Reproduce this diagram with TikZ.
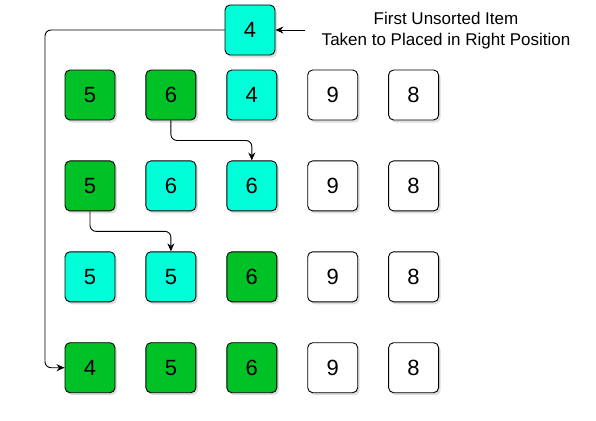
\documentclass[tikz,border=0pt]{standalone}
\usepackage{fontspec}
\setmainfont{Liberation Sans}
\usetikzlibrary{arrows.meta,positioning,shadows}
\definecolor{doneGreen}{HTML}{00C125}
\definecolor{keyCyan}{HTML}{00FFD9}
\tikzset{
  cell/.style={draw, rounded corners=5pt, line width=0.9pt, minimum size=50pt, inner sep=0pt,
    font=\fontsize{22}{26}\selectfont, fill=white,
    drop shadow={shadow xshift=2pt, shadow yshift=-2.5pt, opacity=0.22, fill=black!60}},
  done/.style={cell, fill=doneGreen},
  key/.style={cell, fill=keyCyan},
  arr/.style={-{Stealth[length=8pt,width=7pt]}, line width=0.9pt, rounded corners=6pt},
  note/.style={align=center, font=\fontsize{17}{21}\selectfont, inner sep=0pt}
}
\begin{document}
\begin{tikzpicture}[x=1pt, y=-1pt, node distance=30pt and 30pt]
\useasboundingbox (0,0) rectangle (596,420);

% key taken out
\node[key] (top) at (250,30) {4};
\node[note] (msg) at (446,31) {First Unsorted Item\\Taken to Placed in Right Position};
\coordinate (ptr) at (305,30);
\draw[arr] (ptr) -- (top.east);

% pass 1
\node[done] (r1c1) at (90,95) {5};
\node[done, right=of r1c1] (r1c2) {6};
\node[key, right=of r1c2] (r1c3) {4};
\node[cell, right=of r1c3] (r1c4) {9};
\node[cell, right=of r1c4] (r1c5) {8};

% pass 2
\node[done, below=40pt of r1c1] (r2c1) {5};
\node[key, right=of r2c1] (r2c2) {6};
\node[key, right=of r2c2] (r2c3) {6};
\node[cell, right=of r2c3] (r2c4) {9};
\node[cell, right=of r2c4] (r2c5) {8};

% pass 3
\node[key, below=40pt of r2c1] (r3c1) {5};
\node[key, right=of r3c1] (r3c2) {5};
\node[done, right=of r3c2] (r3c3) {6};
\node[cell, right=of r3c3] (r3c4) {9};
\node[cell, right=of r3c4] (r3c5) {8};

% sorted
\node[done, below=40pt of r3c1] (r4c1) {4};
\node[done, right=of r4c1] (r4c2) {5};
\node[done, right=of r4c2] (r4c3) {6};
\node[cell, right=of r4c3] (r4c4) {9};
\node[cell, right=of r4c4] (r4c5) {8};

% shifts
\draw[arr] (r1c2.south) -- ++(0,20) -| (r2c3.north);
\draw[arr] (r2c1.south) -- ++(0,20) -| (r3c2.north);
\coordinate (back) at (45,30);
\draw[arr] (top.west) -- (back) |- (r4c1.west);
\end{tikzpicture}
\end{document}
